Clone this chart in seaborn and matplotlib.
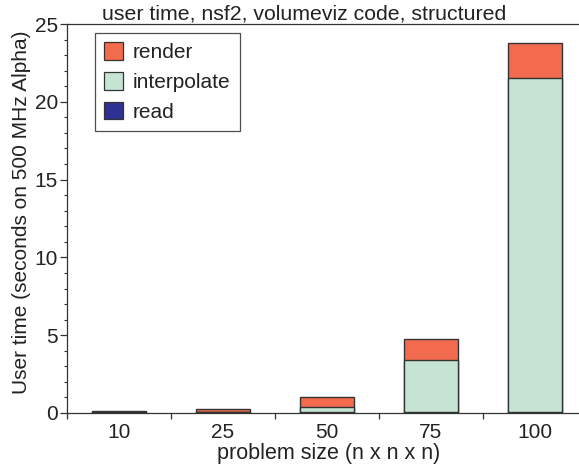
import numpy as np
import pandas as pd
import matplotlib
matplotlib.use("Agg")
import matplotlib.pyplot as plt
import seaborn as sns
from matplotlib.patches import Patch
from matplotlib.ticker import MultipleLocator, FixedLocator

# problem sizes (n x n x n) and per-phase user time in seconds
sizes = ["10", "25", "50", "75", "100"]
read_t = [0.06, 0.04, 0.06, 0.06, 0.07]
interp_t = [0.03, 0.05, 0.33, 3.37, 21.46]
render_t = [0.03, 0.19, 0.64, 1.33, 2.23]

phase_names = ["render", "interpolate", "read"]
phase_colors = {"render": "#F26B4E", "interpolate": "#C6E4D3", "read": "#2E3192"}

sns.set_style("ticks")
plt.rcParams["font.family"] = ["Liberation Sans", "DejaVu Sans"]

FS = 15
TXT = "#222222"

df = pd.DataFrame({"size": sizes, "read": read_t,
                   "interpolate": interp_t, "render": render_t})
df["cum_read"] = df["read"]
df["cum_interpolate"] = df["cum_read"] + df["interpolate"]
df["cum_render"] = df["cum_interpolate"] + df["render"]

fig = plt.figure(figsize=(5.79, 4.71), dpi=100)
ax = fig.add_axes([67 / 579, 58 / 471, 520 / 579, 389 / 471])

edge = "#333333"
# stacked bars: draw cumulative totals from the top layer down
for name in ["render", "interpolate", "read"]:
    sns.barplot(data=df, x="size", y="cum_" + name, order=sizes,
                color=phase_colors[name], edgecolor=edge, linewidth=1.0,
                width=0.51, saturation=1, ax=ax)

ax.set_xlim(-0.5, 4.5)
ax.set_ylim(0, 25)
ax.yaxis.set_major_locator(MultipleLocator(5))
ax.yaxis.set_minor_locator(MultipleLocator(1))
ax.xaxis.set_minor_locator(FixedLocator(np.arange(-0.5, 5.0, 1.0)))

for s in ["left", "bottom", "top"]:
    ax.spines[s].set_color(edge)
    ax.spines[s].set_linewidth(0.9)
ax.spines["right"].set_visible(False)

ax.tick_params(axis="y", which="major", direction="out", length=5, width=0.9,
               color=edge, labelsize=FS, pad=1.5, labelcolor=TXT)
ax.tick_params(axis="y", which="minor", direction="out", length=2.5, width=0.8,
               color=edge)
ax.tick_params(axis="x", which="major", length=0, labelsize=FS, pad=7,
               labelcolor=TXT)
ax.tick_params(axis="x", which="minor", direction="out", length=4.5, width=0.9,
               color=edge)

ax.set_xlabel("")
ax.set_ylabel("")

fig.text(22 / 579, 1 - 212 / 471, "User time (seconds on 500 MHz Alpha)",
         rotation=90, ha="center", va="center", fontsize=FS, color=TXT)
fig.text(329 / 579, 1 - 453 / 471, "problem size (n x n x n)",
         ha="center", va="center", fontsize=FS + 0.5, color=TXT)
fig.text(304 / 579, 1 - 20 / 471, "user time, nsf2, volumeviz code, structured",
         ha="center", va="baseline", fontsize=FS + 0.3, color=TXT)

handles = [Patch(facecolor=phase_colors[n], edgecolor=edge, linewidth=0.9)
           for n in phase_names]
leg = fig.legend(handles, phase_names, loc="upper left",
                 bbox_to_anchor=(95 / 579, 1 - 33 / 471), borderaxespad=0,
                 fontsize=FS, frameon=True, fancybox=False,
                 handlelength=0.9, handleheight=0.9, handletextpad=0.45,
                 labelspacing=0.48, borderpad=0.45)
leg.get_frame().set_edgecolor(TXT)
leg.get_frame().set_linewidth(0.9)
for t in leg.get_texts():
    t.set_color(TXT)

fig.savefig("out.png", dpi=100)
